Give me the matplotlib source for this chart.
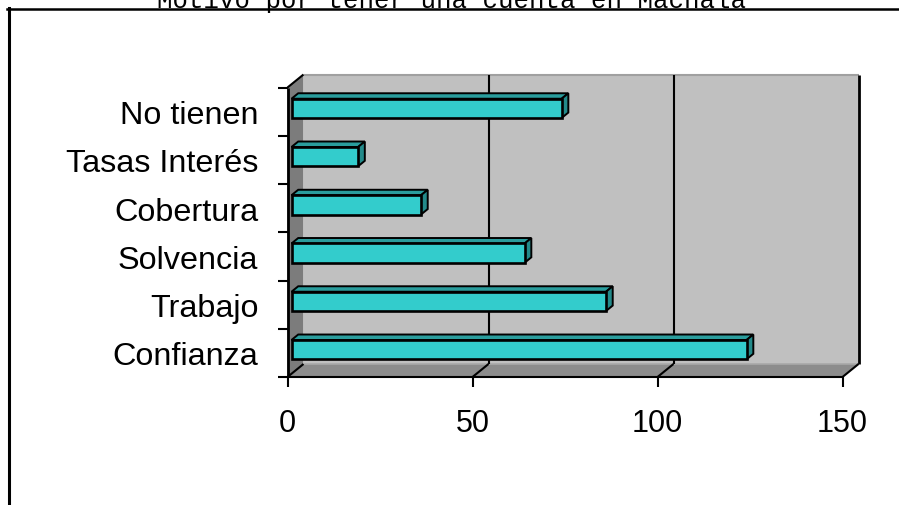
import matplotlib.pyplot as plt
from matplotlib.patches import Polygon
from matplotlib.lines import Line2D

categorias = ['Confianza', 'Trabajo', 'Solvencia', 'Cobertura', 'Tasas Interés', 'No tienen']
valores = [123, 85, 63, 35, 18, 73]
ticks_x = [0, 50, 100, 150]
titulo = 'Motivo por tener una cuenta en Machala'

plt.rcParams['font.family'] = ['Liberation Sans', 'DejaVu Sans']

W, H = 899, 506
fig = plt.figure(figsize=(W / 100, H / 100), dpi=100)
fig.patch.set_facecolor('white')

# plano frontal del grafico 3D
ax = fig.add_axes([287.5 / W, (H - 378) / H, 555 / W, 289.5 / H])
xmax = ticks_x[-1]
n = len(categorias)
ax.set_xlim(0, xmax)
ax.set_ylim(0, n)
ax.patch.set_visible(False)
for s in ax.spines.values():
    s.set_visible(False)

# profundidad en unidades de datos
DX = 16 / (555 / xmax)
DY = 13 / (289.5 / n)

# paredes y piso
ax.add_patch(Polygon([(DX, DY), (xmax + DX, DY), (xmax + DX, n + DY), (DX, n + DY)],
                     closed=True, facecolor='#c0c0c0', edgecolor='none', clip_on=False, zorder=1))
ax.add_patch(Polygon([(0, 0), (0, n), (DX, n + DY), (DX, DY)],
                     closed=True, facecolor='#7c7c7c', edgecolor='none', clip_on=False, zorder=1))
ax.add_patch(Polygon([(0, 0), (xmax, 0), (xmax + DX, DY), (DX, DY)],
                     closed=True, facecolor='#8c8c8c', edgecolor='none', clip_on=False, zorder=1))

kw = dict(clip_on=False, zorder=2, solid_capstyle='butt')
ax.plot([DX, xmax + DX], [n + DY, n + DY], color='#a0a0a0', lw=1.5, **kw)
ax.plot([DX, xmax + DX], [DY, DY], color='#a8a8a8', lw=1.2, **kw)
for v in ticks_x[1:-1]:
    ax.plot([v + DX, v + DX], [DY, n + DY], color='black', lw=1.5, **kw)
for v in ticks_x:
    ax.plot([v, v + DX], [0, DY], color='black', lw=1.5, **kw)
ax.plot([xmax + DX, xmax + DX], [DY, n + DY], color='black', lw=2, **kw)
ax.plot([0, DX], [n, n + DY], color='black', lw=1.5, **kw)
ax.plot([0, 0], [0, n], color='black', lw=2, **kw)
ax.plot([0, xmax], [0, 0], color='black', lw=1.5, **kw)

# barras con cara superior y lateral
d0, d1 = 0.25, 0.67
alto = 0.4
for i, v in enumerate(valores):
    y0 = i + 0.5 - alto / 2
    y1 = i + 0.5 + alto / 2
    ax.add_patch(Polygon([(d0 * DX, y1 + d0 * DY), (d0 * DX + v, y1 + d0 * DY),
                          (d1 * DX + v, y1 + d1 * DY), (d1 * DX, y1 + d1 * DY)],
                         closed=True, facecolor='#2a9d9d', edgecolor='black', lw=1.4,
                         clip_on=False, zorder=3))
    ax.add_patch(Polygon([(d0 * DX + v, y0 + d0 * DY), (d1 * DX + v, y0 + d1 * DY),
                          (d1 * DX + v, y1 + d1 * DY), (d0 * DX + v, y1 + d0 * DY)],
                         closed=True, facecolor='#238a8a', edgecolor='black', lw=1.4,
                         clip_on=False, zorder=3))
ax.barh([i + 0.5 + d0 * DY for i in range(n)], valores, height=alto, left=d0 * DX,
        color='#33cccc', edgecolor='black', linewidth=1.9, zorder=4, clip_on=False)

# ejes
ax.set_xticks(ticks_x)
ax.set_xticklabels([str(t) for t in ticks_x])
ax.tick_params(axis='x', length=7.5, width=1.5, direction='out', pad=15, labelsize=22)
ax.set_yticks(range(n + 1))
ax.set_yticklabels([])
ax.set_yticks([i + 0.5 for i in range(n)], minor=True)
ax.set_yticklabels(categorias, minor=True)
ax.tick_params(axis='y', which='major', length=7.5, width=1.5, direction='out')
ax.tick_params(axis='y', which='minor', length=0, pad=21, labelsize=23.3)

# marco y titulo
fig.add_artist(Line2D([7 / W, 1], [1 - 10 / H, 1 - 10 / H], color='black', lw=1.8,
                      transform=fig.transFigure))
fig.add_artist(Line2D([9 / W, 9 / W], [0, 1 - 9 / H], color='black', lw=2.2,
                      transform=fig.transFigure))
fig.text(452 / W, 1 - 8 / H, titulo, ha='center', va='baseline',
         family='Liberation Mono', fontsize=18.5)

fig.savefig('out.png', dpi=100)
